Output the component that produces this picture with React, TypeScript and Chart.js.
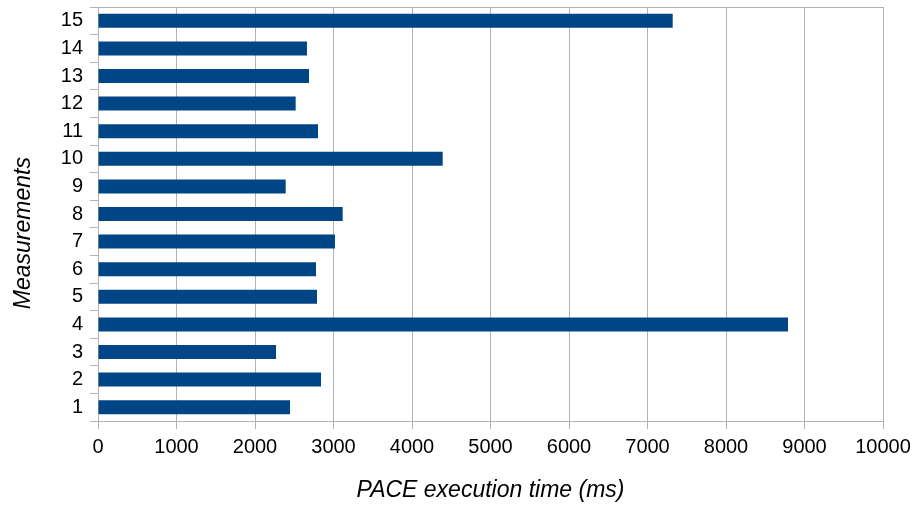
import React, { useEffect, useRef } from "react";
import { Chart, registerables } from "chart.js";

Chart.register(...registerables);

const categories = ["1", "2", "3", "4", "5", "6", "7", "8", "9", "10", "11", "12", "13", "14", "15"];
const executionTimes = [2446, 2841, 2268, 8790, 2790, 2777, 3019, 3117, 2391, 4391, 2803, 2518, 2688, 2662, 7321];
const xTickValues = [0, 1000, 2000, 3000, 4000, 5000, 6000, 7000, 8000, 9000, 10000];

const GRID = "#b3b3b3";
const FONT = "'Liberation Sans', Arial, sans-serif";

const topBorder = {
  id: "topBorder",
  afterDraw(chart: any) {
    const { ctx, chartArea } = chart;
    ctx.save();
    ctx.strokeStyle = GRID;
    ctx.lineWidth = 1;
    ctx.beginPath();
    ctx.moveTo(chartArea.left, chartArea.top + 0.5);
    ctx.lineTo(chartArea.right, chartArea.top + 0.5);
    ctx.stroke();
    ctx.restore();
  },
};

export default function App() {
  const canvasRef = useRef<HTMLCanvasElement | null>(null);

  useEffect(() => {
    document.body.style.margin = "0";
    const canvas = canvasRef.current;
    if (!canvas) return;
    const chart = new Chart(canvas, {
      type: "bar",
      data: {
        labels: categories,
        datasets: [
          {
            label: "PACE execution time",
            data: executionTimes,
            backgroundColor: "#004586",
            borderWidth: 0,
            barPercentage: 0.507,
            categoryPercentage: 1,
          },
        ],
      },
      plugins: [topBorder],
      options: {
        indexAxis: "y",
        animation: false,
        responsive: false,
        maintainAspectRatio: false,
        layout: { padding: { top: 7, right: 35, left: 0, bottom: 0 } },
        plugins: {
          legend: { display: false },
          tooltip: { enabled: false },
        },
        scales: {
          x: {
            type: "linear",
            min: 0,
            max: 10000,
            afterBuildTicks: (scale: any) => {
              scale.ticks = xTickValues.map((v) => ({ value: v }));
            },
            afterFit: (scale: any) => {
              scale.height = 84;
              scale.paddingLeft = 0;
              scale.paddingRight = 0;
            },
            grid: {
              color: GRID,
              tickColor: GRID,
              tickLength: 8,
              lineWidth: 1,
            },
            border: { color: GRID },
            ticks: {
              color: "#000",
              font: { family: FONT, size: 20 },
              padding: 6,
              maxRotation: 0,
              callback: (value: any) => String(value),
            },
            title: {
              display: true,
              text: "PACE execution time (ms)",
              color: "#000",
              font: { family: FONT, size: 23, style: "italic" },
              padding: { top: 0, bottom: 1 },
            },
          },
          y: {
            type: "category",
            reverse: true,
            offset: true,
            afterFit: (scale: any) => {
              scale.width = 98;
              scale.paddingTop = 0;
              scale.paddingBottom = 0;
            },
            grid: {
              offset: true,
              drawOnChartArea: false,
              color: GRID,
              tickColor: GRID,
              tickLength: 8,
            },
            border: { color: GRID },
            ticks: {
              color: "#000",
              font: { family: FONT, size: 20 },
              padding: 7,
            },
            title: {
              display: true,
              text: "Measurements      ",
              color: "#000",
              font: { family: FONT, size: 23, style: "italic" },
              padding: { top: 10, bottom: 0 },
            },
          },
        },
      },
    });
    return () => chart.destroy();
  }, []);

  return (
    <div style={{ width: 918, height: 505, position: "relative" }}>
      <canvas ref={canvasRef} width={918} height={505} style={{ display: "block" }} />
    </div>
  );
}
